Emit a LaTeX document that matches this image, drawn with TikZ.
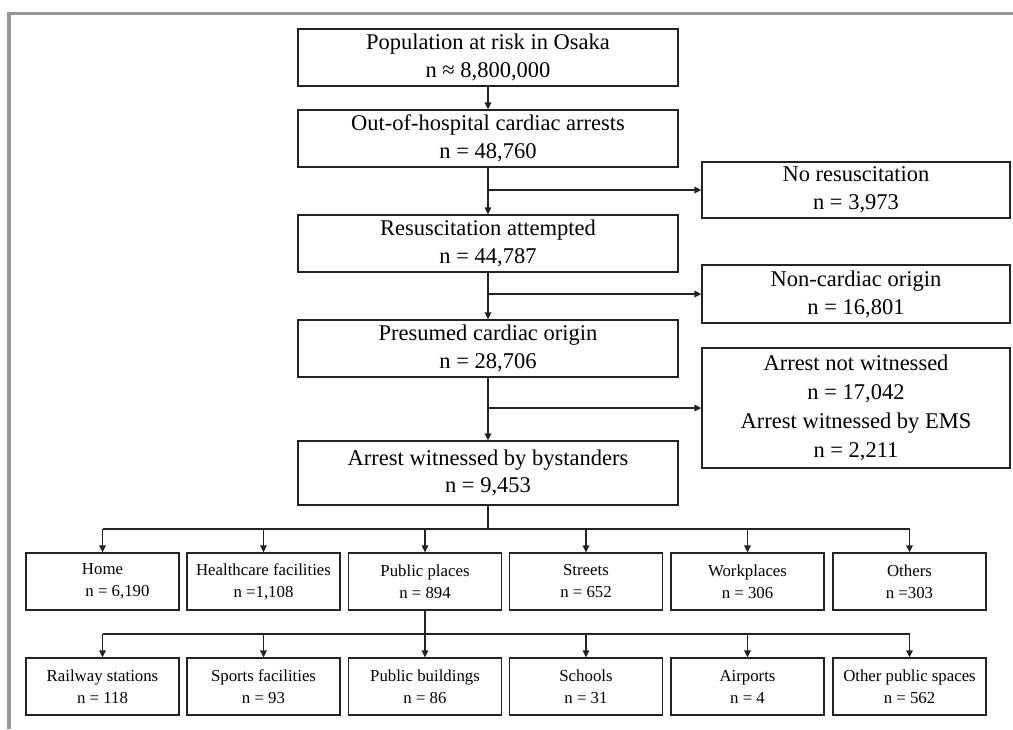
\documentclass[tikz,border=0pt]{standalone}
\usepackage{fontspec}
\setmainfont{Liberation Serif}
\usetikzlibrary{arrows.meta}
\definecolor{framegray}{RGB}{150,150,150}
\definecolor{ink}{RGB}{35,35,35}
\begin{document}
\begin{tikzpicture}[x=1pt,y=-1pt,
  bigbox/.style={draw=ink, line width=1.3pt, inner sep=0pt, minimum width=380pt, minimum height=57pt, align=center, font=\fontsize{22.5}{27.5}\selectfont},
  sidebox/.style={draw=ink, line width=1.3pt, inner sep=0pt, minimum width=308pt, align=center, font=\fontsize{22.5}{28}\selectfont},
  smallbox/.style={draw=ink, line width=1.3pt, inner sep=0pt, minimum width=153pt, minimum height=57pt, align=center, font=\fontsize{16.8}{22}\selectfont},
  conn/.style={draw=ink, line width=1.4pt},
  arr/.style={conn, -{Triangle[length=7pt,width=6.5pt]}}]
\useasboundingbox (0,0) rectangle (1013,729);
\draw[framegray, line width=3.2pt] (9,729) -- (9,13.3) -- (1013,13.3);

% main column
\node[bigbox] (pop) at (488,57.5) {Population at risk in Osaka\\n ≈ 8,800,000};
\node[bigbox] (ohca) at (488,138.5) {Out-of-hospital cardiac arrests\\n = 48,760};
\node[bigbox] (resus) at (488,243.5) {Resuscitation attempted\\n = 44,787};
\node[bigbox] (card) at (488,348.5) {Presumed cardiac origin\\n = 28,706};
\node[bigbox, minimum height=64pt] (byst) at (488,473) {Arrest witnessed by bystanders\\n = 9,453};

% side boxes
\node[sidebox, minimum height=56pt] (nores) at (856,190) {No resuscitation\\n = 3,973};
\node[sidebox, minimum height=58pt] (noncard) at (856,294) {Non-cardiac origin\\n = 16,801};
\node[sidebox, minimum height=120pt, font=\fontsize{22.5}{29}\selectfont] (notwit) at (856,408) {Arrest not witnessed\\n = 17,042\\Arrest witnessed by EMS\\n = 2,211};

% row 1
\node[smallbox] (home) at (102.5,581.5) {Home\\\hspace*{30pt}n = 6,190};
\node[smallbox] (health) at (263.5,581.5) {Healthcare facilities\\n =1,108};
\node[smallbox] (public) at (425,581.5) {Public places\\n = 894};
\node[smallbox] (street) at (586,581.5) {Streets\\n = 652};
\node[smallbox] (work) at (747.5,581.5) {Workplaces\\n = 306};
\node[smallbox] (others) at (909.5,581.5) {Others\\n =303};

% row 2
\node[smallbox] (rail) at (102.5,686.5) {Railway stations\\n = 118};
\node[smallbox] (sport) at (263.5,686.5) {Sports facilities\\n = 93};
\node[smallbox] (pubbld) at (425,686.5) {Public buildings\\n = 86};
\node[smallbox] (school) at (586,686.5) {Schools\\n = 31};
\node[smallbox] (air) at (747.5,686.5) {Airports\\n = 4};
\node[smallbox] (otherpub) at (909.5,686.5) {Other public spaces\\n = 562};

% spine
\draw[arr] (pop) -- (ohca);
\draw[arr] (ohca) -- (resus);
\draw[arr] (resus) -- (card);
\draw[arr] (card) -- (byst);
\draw[arr] (ohca.south |- nores.west) -- (nores.west);
\draw[arr] (resus.south |- noncard.west) -- (noncard.west);
\draw[arr] (card.south |- notwit.west) -- (notwit.west);

% bus 1
\coordinate (bus1) at (488,529);
\draw[conn] (byst.south) -- (bus1);
\draw[conn] (home.north |- bus1) -- (others.north |- bus1);
\foreach \n in {home,health,public,street,work,others}
  \draw[arr] (\n.north |- bus1) -- (\n.north);

% bus 2
\coordinate (bus2) at (425,634);
\draw[conn] (public.south) -- (bus2);
\draw[conn] (rail.north |- bus2) -- (otherpub.north |- bus2);
\foreach \n in {rail,sport,pubbld,school,air,otherpub}
  \draw[arr] (\n.north |- bus2) -- (\n.north);
\end{tikzpicture}
\end{document}
